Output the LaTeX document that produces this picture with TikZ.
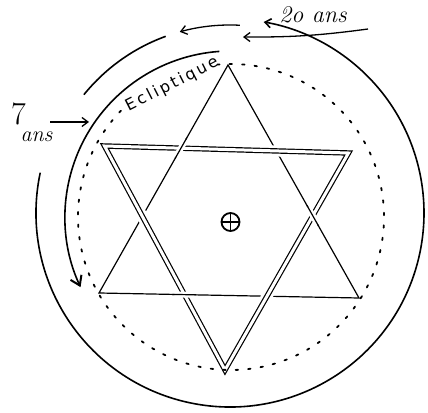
\documentclass[tikz,border=0pt]{standalone}
\usepackage{fontspec}
\usepackage{tikz}
\usetikzlibrary{arrows.meta,calc}
\newfontfamily\handfont[LetterSpace=16]{DejaVu Sans}

\begin{document}
\begin{tikzpicture}[x=1pt,y=1pt]
% Define styles
\tikzstyle{ring}=[line width=1.6pt]
\tikzstyle{ecliptic}=[line width=1.8pt, dash pattern=on 2.5pt off 10pt, line cap=round]
\tikzstyle{single}=[line width=1.2pt]
\tikzstyle{twin}=[double, line width=1.2pt, double distance=3pt]
\tikzstyle{halo}=[draw=white, line width=11pt, line join=round]
\tikzstyle{arrow}=[-{Straight Barb[length=6pt,width=9pt]}, line width=1.3pt]
\tikzstyle{bigarrow}=[-{Straight Barb[length=9pt,width=12pt,line width=2pt]}, line width=1.6pt]

\useasboundingbox (0,0) rectangle (428,412);

% Centres
\coordinate (o) at (230,199);
\coordinate (e) at (231,195);

% Outer circle and the arcs round it
\draw[arrow, ring] ($(o)+(-192:194)$) arc[start angle=-192, end angle=80, radius=194];
\draw[ring] ($(o)+(110:188)$) arc[start angle=110, end angle=141, radius=188];
\draw[arrow] ($(o)+(87:188)$) arc[start angle=87, end angle=105.5, radius=188];
\draw[bigarrow] ($(e)+(94:166)$) arc[start angle=94, end angle=205, radius=166];

% Hexagram
\coordinate (a1) at (228,347);
\coordinate (a2) at (99,119);
\coordinate (a3) at (359,114);
\coordinate (b1) at (104.5,266);
\coordinate (b2) at (348.5,259);
\coordinate (b3) at (225,42);
\coordinate (x1) at (intersection of a1--a2 and b1--b2);
\coordinate (x2) at (intersection of a1--a3 and b2--b3);
\coordinate (x3) at (intersection of a2--a3 and b3--b1);

\draw[single] (a1) -- (a2) -- (a3) -- cycle;
\draw[halo] (b1) -- (b2) -- (b3) -- cycle;
\draw[twin] (b1) -- (b2) -- (b3) -- cycle;
% the single triangle goes over at these crossings
\foreach \x/\p/\q in {x1/a1/a2, x2/a1/a3, x3/a2/a3} {
  \draw[halo, line width=6pt] ($(\x)!10pt!(\p)$) -- ($(\x)!10pt!(\q)$);
  \draw[single] ($(\x)!12pt!(\p)$) -- ($(\x)!12pt!(\q)$);
}

% Ecliptic
\draw[ecliptic] ($(e)+(136:153)$) arc[start angle=136, end angle=455, radius=153];
\node[rotate=27, inner sep=0pt, font=\handfont\fontsize{16}{16}\selectfont] (eclip) at ($(e)+(114:145)$) {Ecliptique};

% Earth
\node[circle, draw, line width=1.8pt, minimum size=18pt, inner sep=0pt] (earth) at (230.5,190) {};
\draw[line width=1.8pt] (earth.north) -- (earth.south);
\draw[line width=1.8pt] (earth.west) -- (earth.east);

% Labels
\node[font=\fontsize{32}{32}\selectfont] (seven) at (18.5,298) {7};
\node[font=\itshape\fontsize{22}{22}\selectfont] (ans) at (36.5,275) {ans};
\node[font=\itshape\fontsize{24}{24}\selectfont] (twenty) at (313,397) {2o ans};
\coordinate (seventail) at (50,290);
\coordinate (seventip) at (89,290);
\draw[arrow] (seventail) -- (seventip);
\coordinate (twentytail) at (368,383);
\coordinate (twentytip) at (243,375);
\draw[arrow] (twentytail) to[bend left=4] (twentytip);
\end{tikzpicture}
\end{document}
